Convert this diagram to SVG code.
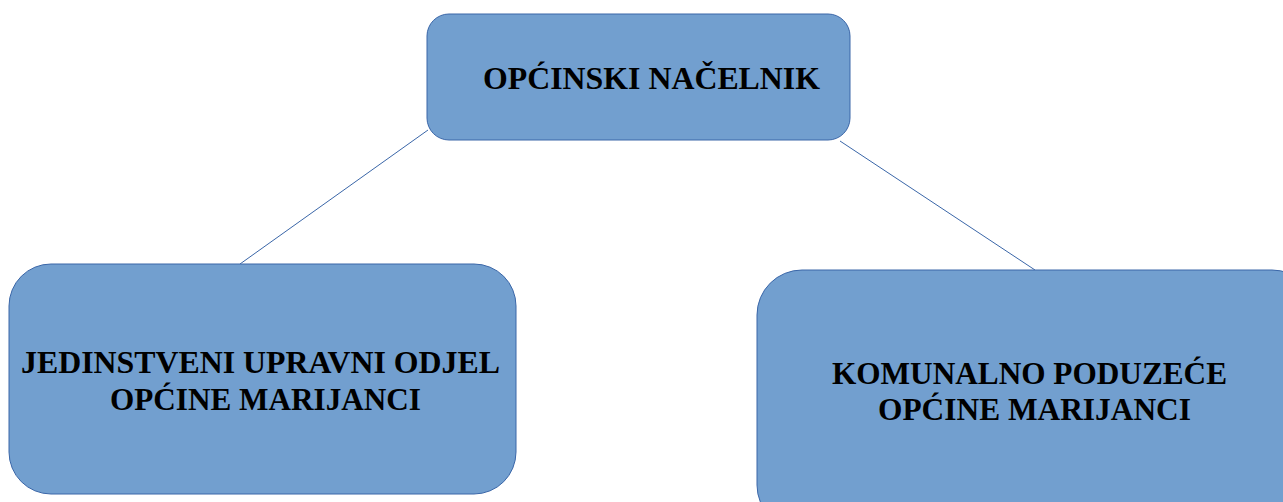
<svg xmlns="http://www.w3.org/2000/svg" width="1283" height="502" viewBox="0 0 1283 502">
<style>
.box{fill:#729fcf;stroke:#3a66a8;stroke-width:1}
.conn{stroke:#3a66a8;stroke-width:1;fill:none}
.t{font-family:"Liberation Serif","Times New Roman",serif;font-weight:bold;font-size:32.5px;fill:#000}
</style>
<rect width="1283" height="502" fill="#ffffff"/>
<g id="connectors">
<line class="conn" x1="428" y1="130" x2="240" y2="264"/>
<line class="conn" x1="840" y1="141" x2="1035" y2="270"/>
</g>
<g id="nacelnik">
<rect class="box" x="427" y="14" width="423" height="126" rx="22" ry="22"/>
<text class="t" x="483" y="88.5" textLength="337" lengthAdjust="spacingAndGlyphs">OPĆINSKI NAČELNIK</text>
</g>
<g id="jedinstveni">
<rect class="box" x="9" y="264" width="507" height="230" rx="42" ry="42"/>
<text class="t" x="21" y="373" textLength="479" lengthAdjust="spacingAndGlyphs">JEDINSTVENI UPRAVNI ODJEL</text>
<text class="t" x="110" y="410" textLength="311" lengthAdjust="spacingAndGlyphs">OPĆINE MARIJANCI</text>
</g>
<g id="komunalno">
<rect class="box" x="757" y="270" width="560" height="260" rx="45" ry="45"/>
<text class="t" x="832" y="383.5" textLength="395" lengthAdjust="spacingAndGlyphs">KOMUNALNO PODUZEĆE</text>
<text class="t" x="878" y="420" textLength="313" lengthAdjust="spacingAndGlyphs">OPĆINE MARIJANCI</text>
</g>
</svg>
